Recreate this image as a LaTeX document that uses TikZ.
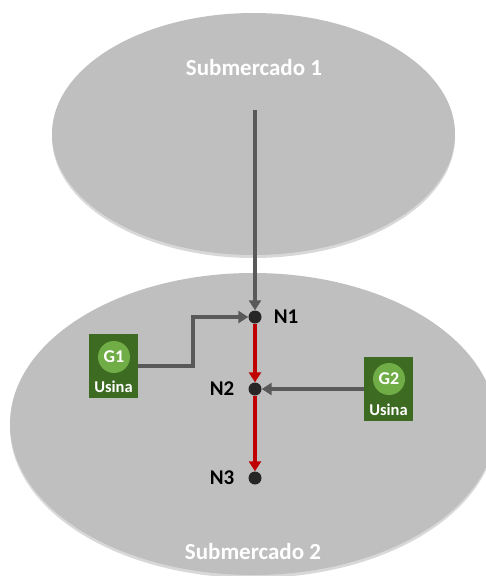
\documentclass[tikz,border=0pt]{standalone}
\usepackage{fontspec}
\setmainfont{Carlito}
\usetikzlibrary{shadows,arrows.meta}
\definecolor{ellgray}{HTML}{BFBFBF}
\definecolor{lingray}{HTML}{595959}
\definecolor{dotcol}{HTML}{262626}
\definecolor{redline}{HTML}{C00000}
\definecolor{boxgreen}{HTML}{3D6B22}
\definecolor{circgreen}{HTML}{70AD47}
\begin{document}
\begin{tikzpicture}[x=1pt,y=-1pt,
  regionshadow/.style={drop shadow={opacity=0.3, shadow xshift=0pt, shadow yshift=-3pt}},
  regtext/.style={text=white, font=\bfseries\fontsize{23}{26}\selectfont},
  bus/.style={circle, fill=dotcol, inner sep=0pt, minimum size=13pt},
  buslabel/.style={text=black, font=\bfseries\fontsize{21}{24}\selectfont},
  plantbox/.style={fill=boxgreen, minimum width=49pt, minimum height=64pt, inner sep=0pt},
  plantcirc/.style={circle, fill=circgreen, minimum size=32pt, inner sep=0pt, text=white, font=\bfseries\fontsize{18}{20}\selectfont},
  planttext/.style={text=white, font=\bfseries\fontsize{16.5}{19}\selectfont},
  grayarrow/.style={draw=lingray, line width=3.8pt, -{Triangle[length=10pt,width=12pt]}},
  redarrow/.style={draw=redline, line width=3.8pt, -{Triangle[length=10pt,width=12pt]}},
]
\useasboundingbox (0,0) rectangle (486,576);
\fill[white] (0,0) rectangle (486,576);
% regions
\path[fill=ellgray, regionshadow] (253.5,134) ellipse [x radius=201.5, y radius=121];
\path[fill=ellgray, regionshadow] (253,424) ellipse [x radius=243, y radius=151];
\node[regtext] (s1) at (254,68) {Submercado 1};
\node[regtext] (s2) at (253,552) {Submercado 2};
% buses
\node[bus] (n1) at (255,317) {};
\node[bus] (n2) at (255,389) {};
\node[bus] (n3) at (255,478) {};
\node[buslabel] (l1) at (286,317) {N1};
\node[buslabel] (l2) at (222,389) {N2};
\node[buslabel] (l3) at (222,478) {N3};
% plants
\node[plantbox] (g1) at (113.5,366) {};
\node[plantcirc] (g1c) at (114,357) {G1};
\node[planttext] (g1t) at (113.5,387) {Usina};
\node[plantbox] (g2) at (388.5,389) {};
\node[plantcirc] (g2c) at (389,379) {G2};
\node[planttext] (g2t) at (388.5,410) {Usina};
% connectors
\coordinate (src) at (255,110);
\draw[grayarrow] (src) -- (n1.north);
\draw[grayarrow] (g1.east) -- (193,366) |- (n1.west);
\draw[grayarrow] (g2.west) -- (n2.east);
\draw[redarrow] (n1.south) -- (n2.north);
\draw[redarrow] (n2.south) -- (n3.north);
\end{tikzpicture}
\end{document}
